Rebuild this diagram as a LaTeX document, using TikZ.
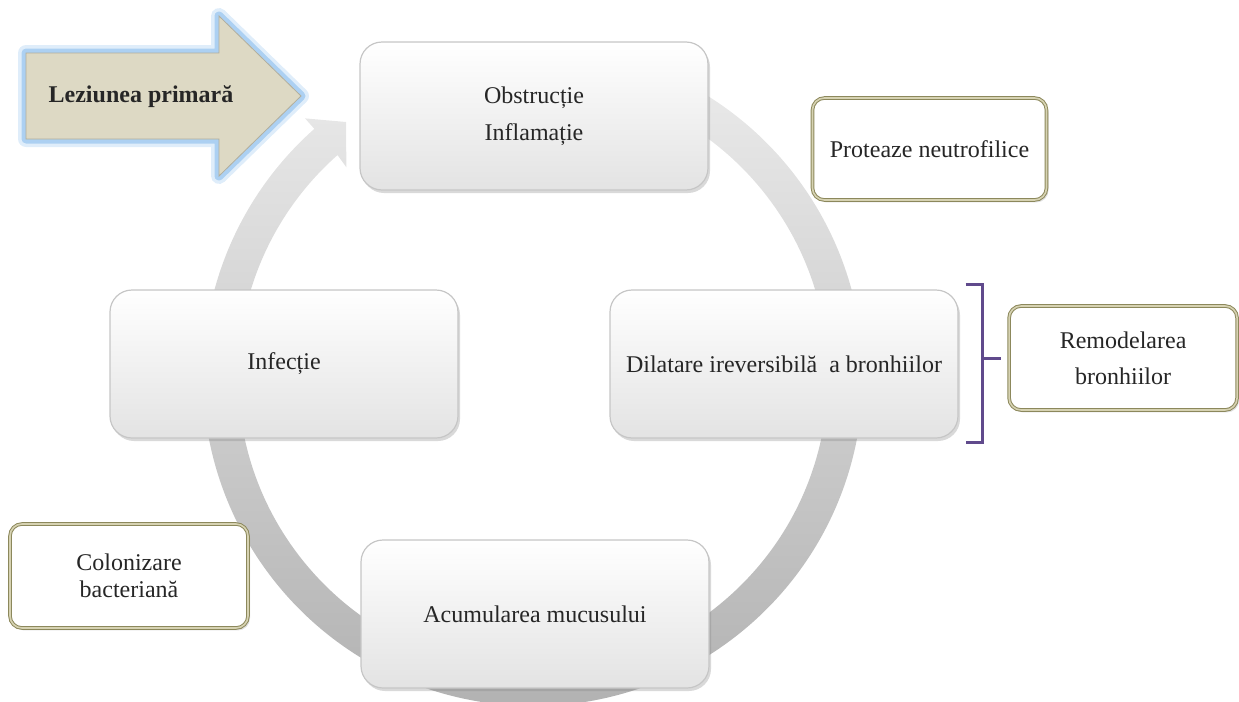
\documentclass[tikz,border=0pt]{standalone}
\usepackage{fontspec}
\setmainfont{Liberation Serif}
\usetikzlibrary{positioning, shadows, calc}
\definecolor{glow_blue}		{RGB}{150,196,238}
\definecolor{lesion_beige}	{RGB}{221,217,196}
\definecolor{khaki_dark}	{RGB}{140,136,92}
\definecolor{khaki_light}	{RGB}{214,210,178}
\definecolor{brace_purple}	{RGB}{96,74,140}

\begin{document}
\begin{tikzpicture}[x = 0.5pt, y = 0.5pt,
		cycleB/.style  = {draw = gray!45,
			rectangle,
			rounded corners = 11pt,
			top color      = white,
			bottom color   = gray!22,
			align          = center,
			text           = black!85,
			font = \fontsize{12}{18.5}\selectfont,
			minimum width  = 174pt,
			minimum height = 74pt,
			line width     = 0.6pt,
			drop shadow    = {shadow xshift=1pt, shadow yshift=-1.5pt, opacity=0.3}},
		sideB/.style   = {draw = khaki_dark,
			double          = khaki_light,
			double distance = 0.8pt,
			line width      = 0.5pt,
			rounded corners = 6pt,
			fill           = white,
			align          = center,
			text           = black!85,
			font = \fontsize{12}{18}\selectfont,
			drop shadow    = {shadow xshift=1pt, shadow yshift=-1.2pt, opacity=0.25}},
		brace/.style   = {draw = brace_purple, line width = 1.5pt}]
	
	\useasboundingbox (0,0) rectangle (1239,-702);
	\coordinate (C) at (533,-376);
	
	% grey cycle arrow, its head ends left of the top box
	\shade[top color = gray!15, bottom color = gray!62]
		($(C)+(80:330)$) arc[start angle=80, end angle=-228.5, radius=330]
		-- ($(C)+(131.5:344)$) -- (346,-122) -- ($(C)+(131.8:280)$)
		-- ($(C)+(131.5:295)$) arc[start angle=-228.5, end angle=80, radius=295]
		-- cycle;
	
	% block arrow with blue glow
	\foreach \w/\o in {8pt/0.3, 4.5pt/0.7}
		\draw[glow_blue, line width=\w, opacity=\o, line join=round]
			(26,-53) -- (219,-53) -- (219,-16) -- (301,-96)
			-- (219,-176) -- (219,-139) -- (26,-139) -- cycle;
	\draw[fill = lesion_beige, draw = lesion_beige!80!black, line width=0.4pt]
		(26,-53) -- (219,-53) -- (219,-16) -- (301,-96)
		-- (219,-176) -- (219,-139) -- (26,-139) -- cycle;
	\node[font=\bfseries\fontsize{12}{14}\selectfont, text=black!85] (Lez) at (141,-97)
		{Leziunea primară};
	
	\node[cycleB] (Obstr) at (534,-116) {Obstrucție\\Inflamație};
	\node[cycleB] (Dilat) at (784,-364) {Dilatare ireversibilă~ a bronhiilor};
	\node[cycleB] (Acum)  at (535,-614) {Acumularea mucusului};
	\node[cycleB] (Infec) at (284,-364) {Infecție};
	
	\node[sideB, minimum width=117pt, minimum height=51pt] (Prot) at (929.5,-149)
		{Proteaze neutrofilice};
	\node[sideB, minimum width=114pt, minimum height=52pt, right=25pt of Dilat, yshift=3pt] (Remod)
		{Remodelarea\\bronhiilor};
	\node[sideB, minimum width=119pt, minimum height=52pt, font=\fontsize{12}{13.5}\selectfont] (Colon) at (129,-576)
		{Colonizare\\bacteriană};
	
	% bracket from the dilatation box to the remodelling box
	\draw[brace] ([shift={(7,5)}]Dilat.north east) -| ([shift={(24,-4)}]Dilat.south east) -- ++(-17,0);
	\coordinate (bk) at ([xshift=12pt]Dilat.east);
	\draw[brace] (bk |- Remod.west) -- ([xshift=-4pt]Remod.west);
	
\end{tikzpicture}
\end{document}
